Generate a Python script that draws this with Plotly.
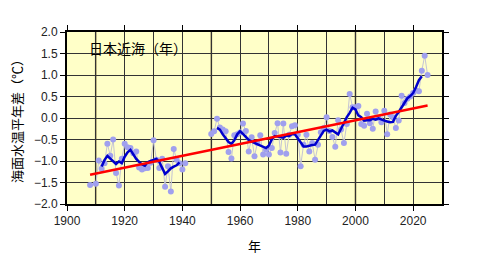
import plotly.graph_objects as go

# ---- data ----
early_years = [1908, 1909] + list(range(1910, 1942))
early_vals = [-1.56, None,
              -1.53, -0.99, -1.18, -1.05, -0.60, -0.88, -0.50, -1.28, -1.57, -0.95,
              -0.60, -0.68, -0.70, -0.82, -0.78, -1.15, -1.20, -1.17, -1.16, -1.04,
              -0.52, -0.97, -1.16, -0.95, -1.60, -1.12, -1.71, -0.72, -0.97, -1.05,
              -1.20, -1.05]

late_vals = [-0.37, -0.31, -0.02, -0.22, -0.27, -0.31, -0.79, -0.94, -0.40, -0.38,
             -0.34, -0.13, -0.30, -0.78, -0.45, -0.89, -0.58, -0.40, -0.85, -0.74,
             -0.85, -0.70, -0.35, -0.12, -0.80, -0.13, -0.83, -0.39, -0.19, -0.17,
             -0.39, -1.12, -0.62, -0.39, -0.78, -0.58, -0.97, -0.62, -0.33, -0.23,
             0.02, -0.30, -0.44, -0.67, -0.05, -0.27, -0.58, -0.14, 0.56, 0.25,
             0.25, 0.28, -0.14, -0.18, 0.10, -0.12, -0.25, 0.15, 0.00, -0.10,
             0.17, -0.38, 0.08, 0.02, -0.23, -0.06, 0.52, 0.35, 0.45, 0.50,
             0.58, 0.64, 0.62, 1.10, 1.45, 1.00]
late_years = list(range(1950, 1950 + len(late_vals)))

# 5-year running mean
blue_early = [-1.13, -0.98, -0.88, -0.95, -1.02, -1.07, -1.01, -1.05, -0.90, -0.80,
              -0.74, -0.85, -0.95, -1.02, -1.08, -1.11, -1.03, -1.00, -0.97, -0.95,
              -1.02, -1.15, -1.30, -1.24, -1.17, -1.13, -1.10, -1.03]
blue_early_years = list(range(1912, 1912 + len(blue_early)))

blue_late = [-0.23, -0.27, -0.38, -0.47, -0.56, -0.60, -0.52, -0.38,
             -0.31, -0.37, -0.45, -0.51, -0.55, -0.58, -0.60, -0.63, -0.66, -0.70,
             -0.64, -0.50, -0.42, -0.43, -0.44, -0.46, -0.41, -0.42, -0.37, -0.38,
             -0.47, -0.58, -0.66, -0.66, -0.64, -0.63, -0.62, -0.52, -0.40, -0.30,
             -0.27, -0.31, -0.29, -0.33, -0.38, -0.25, -0.11, 0.02, 0.12, 0.24,
             0.20, 0.06, 0.02, -0.06, -0.05, -0.05, -0.02, -0.04, -0.01, -0.04,
             -0.06, -0.08, -0.10, -0.09, 0.05, 0.14, 0.24, 0.36, 0.46, 0.51,
             0.58, 0.72, 0.88, 0.97]
blue_late_years = list(range(1952, 1952 + len(blue_late)))

trend_years = [1908, 2025]
trend_vals = [-1.32, 0.29]

x_ticks = [1900, 1920, 1940, 1960, 1980, 2000, 2020]
y_ticks = [-2.0, -1.5, -1.0, -0.5, 0.0, 0.5, 1.0, 1.5, 2.0]
marked_years = [1910, 1950, 2000]

# ---- figure ----
fig = go.Figure()
for xs, ys in [(early_years, early_vals), (late_years, late_vals)]:
    fig.add_trace(go.Scatter(
        x=xs, y=ys, mode="lines+markers",
        line=dict(color="#C4C4D4", width=1),
        marker=dict(color="#A0A0EE", size=6),
        connectgaps=False, showlegend=False, hoverinfo="skip"))
for xs, ys in [(blue_early_years, blue_early), (blue_late_years, blue_late)]:
    fig.add_trace(go.Scatter(
        x=xs, y=ys, mode="lines",
        line=dict(color="#0000CC", width=2.5),
        showlegend=False, hoverinfo="skip"))
fig.add_trace(go.Scatter(
    x=trend_years, y=trend_vals, mode="lines",
    line=dict(color="#FF0000", width=2.5),
    showlegend=False, hoverinfo="skip"))

for yr in marked_years:
    fig.add_shape(type="line", xref="x", yref="paper", x0=yr, x1=yr, y0=0, y1=1,
                  line=dict(color="#B0A878", width=2), layer="between")

fig.add_annotation(text="日本近海（年）", xref="x", yref="y", x=1906.8, y=1.63,
                   xanchor="left", yanchor="middle", showarrow=False,
                   font=dict(family="Noto Sans CJK JP", size=14, color="#000"))

axis_common = dict(
    showline=True, linewidth=2, linecolor="#000", mirror="ticks",
    ticks="outside", ticklen=5, tickwidth=1, tickcolor="#000",
    showgrid=True, gridcolor="#333333", gridwidth=1, zeroline=False,
    tickfont=dict(family="Liberation Sans, Arial", size=12, color="#222"),
)

fig.update_xaxes(range=[1900, 2030], tickvals=x_ticks, ticktext=[str(v) for v in x_ticks],
                 minor=dict(dtick=10, tick0=1900, showgrid=True, gridcolor="#333333",
                            gridwidth=1, ticks=""),
                 title=dict(text="年", font=dict(family="Noto Sans CJK JP", size=13, color="#000"),
                            standoff=14),
                 **axis_common)
fig.update_yaxes(range=[-2, 2], tickvals=y_ticks, tickformat=".1f",
                 title=dict(text="海面水温平年差（℃）",
                            font=dict(family="Noto Sans CJK JP", size=13, color="#000"),
                            standoff=8),
                 **axis_common)

fig.update_layout(
    width=500, height=268,
    margin=dict(l=67, r=58, t=32, b=64),
    plot_bgcolor="#FFFFC8", paper_bgcolor="#FFFFFF",
    showlegend=False,
)

fig.write_html("out.html")
